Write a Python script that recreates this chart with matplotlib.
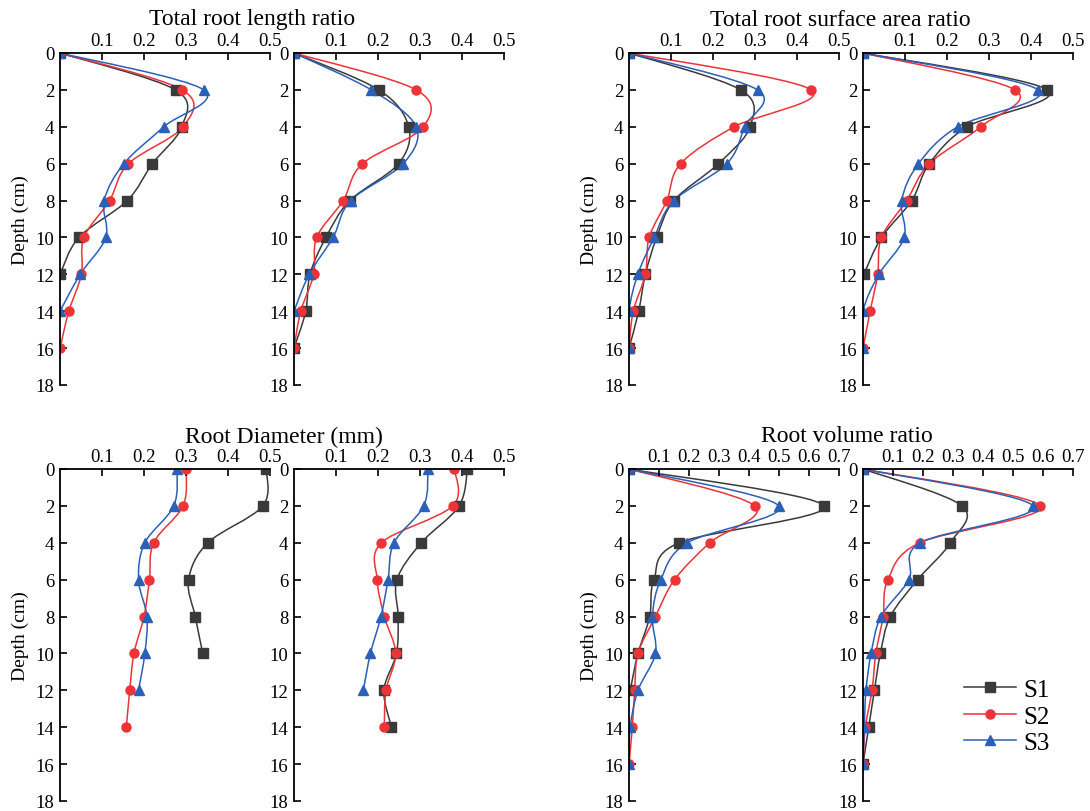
import matplotlib
matplotlib.use('Agg')
import matplotlib.pyplot as plt
import numpy as np
from matplotlib.path import Path
from matplotlib.patches import PathPatch
from matplotlib.lines import Line2D

plt.rcParams['font.family'] = 'Liberation Serif'

depth = [0, 2, 4, 6, 8, 10, 12, 14, 16]
depth_ticks = [0, 2, 4, 6, 8, 10, 12, 14, 16, 18]
names = ['S1', 'S2', 'S3']

# Total root length ratio (left / right)
len_l_s1 = [0, 0.275, 0.29, 0.22, 0.16, 0.045, 0.0]
len_l_s2 = [0, 0.291, 0.293, 0.163, 0.118, 0.057, 0.051, 0.021, 0.0]
len_l_s3 = [0, 0.342, 0.247, 0.152, 0.105, 0.109, 0.048, 0.0]
len_r_s1 = [0, 0.202, 0.273, 0.249, 0.133, 0.076, 0.038, 0.028, 0.0]
len_r_s2 = [0, 0.291, 0.308, 0.163, 0.117, 0.054, 0.047, 0.016, 0.0]
len_r_s3 = [0, 0.184, 0.291, 0.26, 0.135, 0.093, 0.036, 0.0]

# Total root surface area ratio
surf_l_s1 = [0, 0.266, 0.288, 0.213, 0.107, 0.066, 0.039, 0.023, 0.0]
surf_l_s2 = [0, 0.434, 0.25, 0.123, 0.09, 0.048, 0.039, 0.01, 0.0]
surf_l_s3 = [0, 0.306, 0.275, 0.233, 0.107, 0.06, 0.021, 0.0, 0.0]
surf_r_s1 = [0, 0.439, 0.248, 0.158, 0.116, 0.044, 0.002]
surf_r_s2 = [0, 0.362, 0.28, 0.158, 0.104, 0.044, 0.035, 0.017, 0.0]
surf_r_s3 = [0, 0.417, 0.225, 0.132, 0.092, 0.098, 0.038, 0.0, 0.0]

# Root diameter (mm)
dia_l_s1 = [0.491, 0.483, 0.352, 0.306, 0.322, 0.34]
dia_l_s2 = [0.301, 0.293, 0.223, 0.213, 0.2, 0.176, 0.166, 0.158]
dia_l_s3 = [0.279, 0.271, 0.202, 0.187, 0.207, 0.202, 0.187]
dia_r_s1 = [0.413, 0.393, 0.303, 0.245, 0.248, 0.244, 0.214, 0.232]
dia_r_s2 = [0.382, 0.378, 0.208, 0.198, 0.215, 0.242, 0.219, 0.215]
dia_r_s3 = [0.319, 0.309, 0.238, 0.224, 0.207, 0.182, 0.165]

# Root volume ratio
vol_l_s1 = [0, 0.65, 0.167, 0.083, 0.069, 0.03, 0.004]
vol_l_s2 = [0, 0.419, 0.269, 0.152, 0.088, 0.03, 0.019, 0.011, 0.0]
vol_l_s3 = [0, 0.499, 0.194, 0.106, 0.078, 0.088, 0.03, 0.004, 0.0]
vol_r_s1 = [0, 0.33, 0.291, 0.182, 0.091, 0.058, 0.038, 0.019, 0.0]
vol_r_s2 = [0, 0.591, 0.189, 0.083, 0.067, 0.043, 0.03, 0.008, 0.0]
vol_r_s3 = [0, 0.567, 0.191, 0.153, 0.06, 0.027, 0.01, 0.004, 0.0]

colors = ['#3a3a3a', '#ec3338', '#2a60b8']
markers = ['s', 'o', '^']

W, H = 1090, 812


def smooth(xs, ys):
    # catmull-rom through the points, drawn as bezier segments
    p = np.column_stack([xs, ys]).astype(float)
    n = len(p)
    verts = [p[0]]
    codes = [Path.MOVETO]
    for i in range(n - 1):
        p0 = p[max(i - 1, 0)]
        p1 = p[i]
        p2 = p[i + 1]
        p3 = p[min(i + 2, n - 1)]
        verts += [p1 + (p2 - p0) / 6, p2 - (p3 - p1) / 6, p2]
        codes += [Path.CURVE4] * 3
    return Path(verts, codes)


def make_ax(fig, x0, ytop, ybot):
    return fig.add_axes([x0 / W, 1 - ybot / H, 210 / W, (ybot - ytop) / H])


def draw(ax, series, xmax, ylabel):
    for vals, c, m in zip(series, colors, markers):
        d = depth[:len(vals)]
        ax.add_patch(PathPatch(smooth(vals, d), facecolor='none', edgecolor=c, lw=1.1))
        ax.plot(vals, d, linestyle='none', marker=m, color=c, markersize=6.5)
    ax.set_xlim(0, xmax)
    ax.set_ylim(18, 0)
    ticks = [round(0.1 * k, 1) for k in range(1, int(round(xmax * 10)) + 1)]
    ax.set_xticks(ticks)
    ax.set_xticklabels([str(t) for t in ticks])
    ax.set_yticks(depth_ticks)
    ax.xaxis.tick_top()
    ax.tick_params(axis='both', direction='in', length=5, width=1.2, labelsize=13.5, pad=4)
    ax.tick_params(axis='x', pad=3)
    for s in ['right', 'bottom']:
        ax.spines[s].set_visible(False)
    for s in ['left', 'top']:
        ax.spines[s].set_linewidth(1.3)
    if ylabel:
        ax.set_ylabel('Depth (cm)', fontsize=14, labelpad=5)


fig = plt.figure(figsize=(W / 100, H / 100), dpi=100)

panels = [
    (60, 54, 386, [len_l_s1, len_l_s2, len_l_s3], 0.5, True),
    (294, 54, 386, [len_r_s1, len_r_s2, len_r_s3], 0.5, False),
    (629, 54, 386, [surf_l_s1, surf_l_s2, surf_l_s3], 0.5, True),
    (863, 54, 386, [surf_r_s1, surf_r_s2, surf_r_s3], 0.5, False),
    (60, 470, 802, [dia_l_s1, dia_l_s2, dia_l_s3], 0.5, True),
    (294, 470, 802, [dia_r_s1, dia_r_s2, dia_r_s3], 0.5, False),
    (629, 470, 802, [vol_l_s1, vol_l_s2, vol_l_s3], 0.7, True),
    (863, 470, 802, [vol_r_s1, vol_r_s2, vol_r_s3], 0.7, False),
]

axes = []
for x0, yt, yb, ser, xmax, yl in panels:
    ax = make_ax(fig, x0, yt, yb)
    draw(ax, ser, xmax, yl)
    axes.append(ax)

fig.text(252 / W, 1 - 20 / H, 'Total root length ratio', ha='center', va='center', fontsize=17)
fig.text(840 / W, 1 - 20 / H, 'Total root surface area ratio', ha='center', va='center', fontsize=17)
fig.text(284 / W, 1 - 437 / H, 'Root Diameter (mm)', ha='center', va='center', fontsize=17)
fig.text(847 / W, 1 - 437 / H, 'Root volume ratio', ha='center', va='center', fontsize=17)

handles = [Line2D([], [], color=c, marker=m, markersize=6.5, lw=1.1) for c, m in zip(colors, markers)]
axes[-1].legend(handles, names, loc='center left', bbox_to_anchor=(0.48, 0.255), frameon=False,
                fontsize=18, handlelength=2.1, handletextpad=0.3, labelspacing=0.16, borderpad=0,
                borderaxespad=0)

fig.savefig('out.png', dpi=100)
